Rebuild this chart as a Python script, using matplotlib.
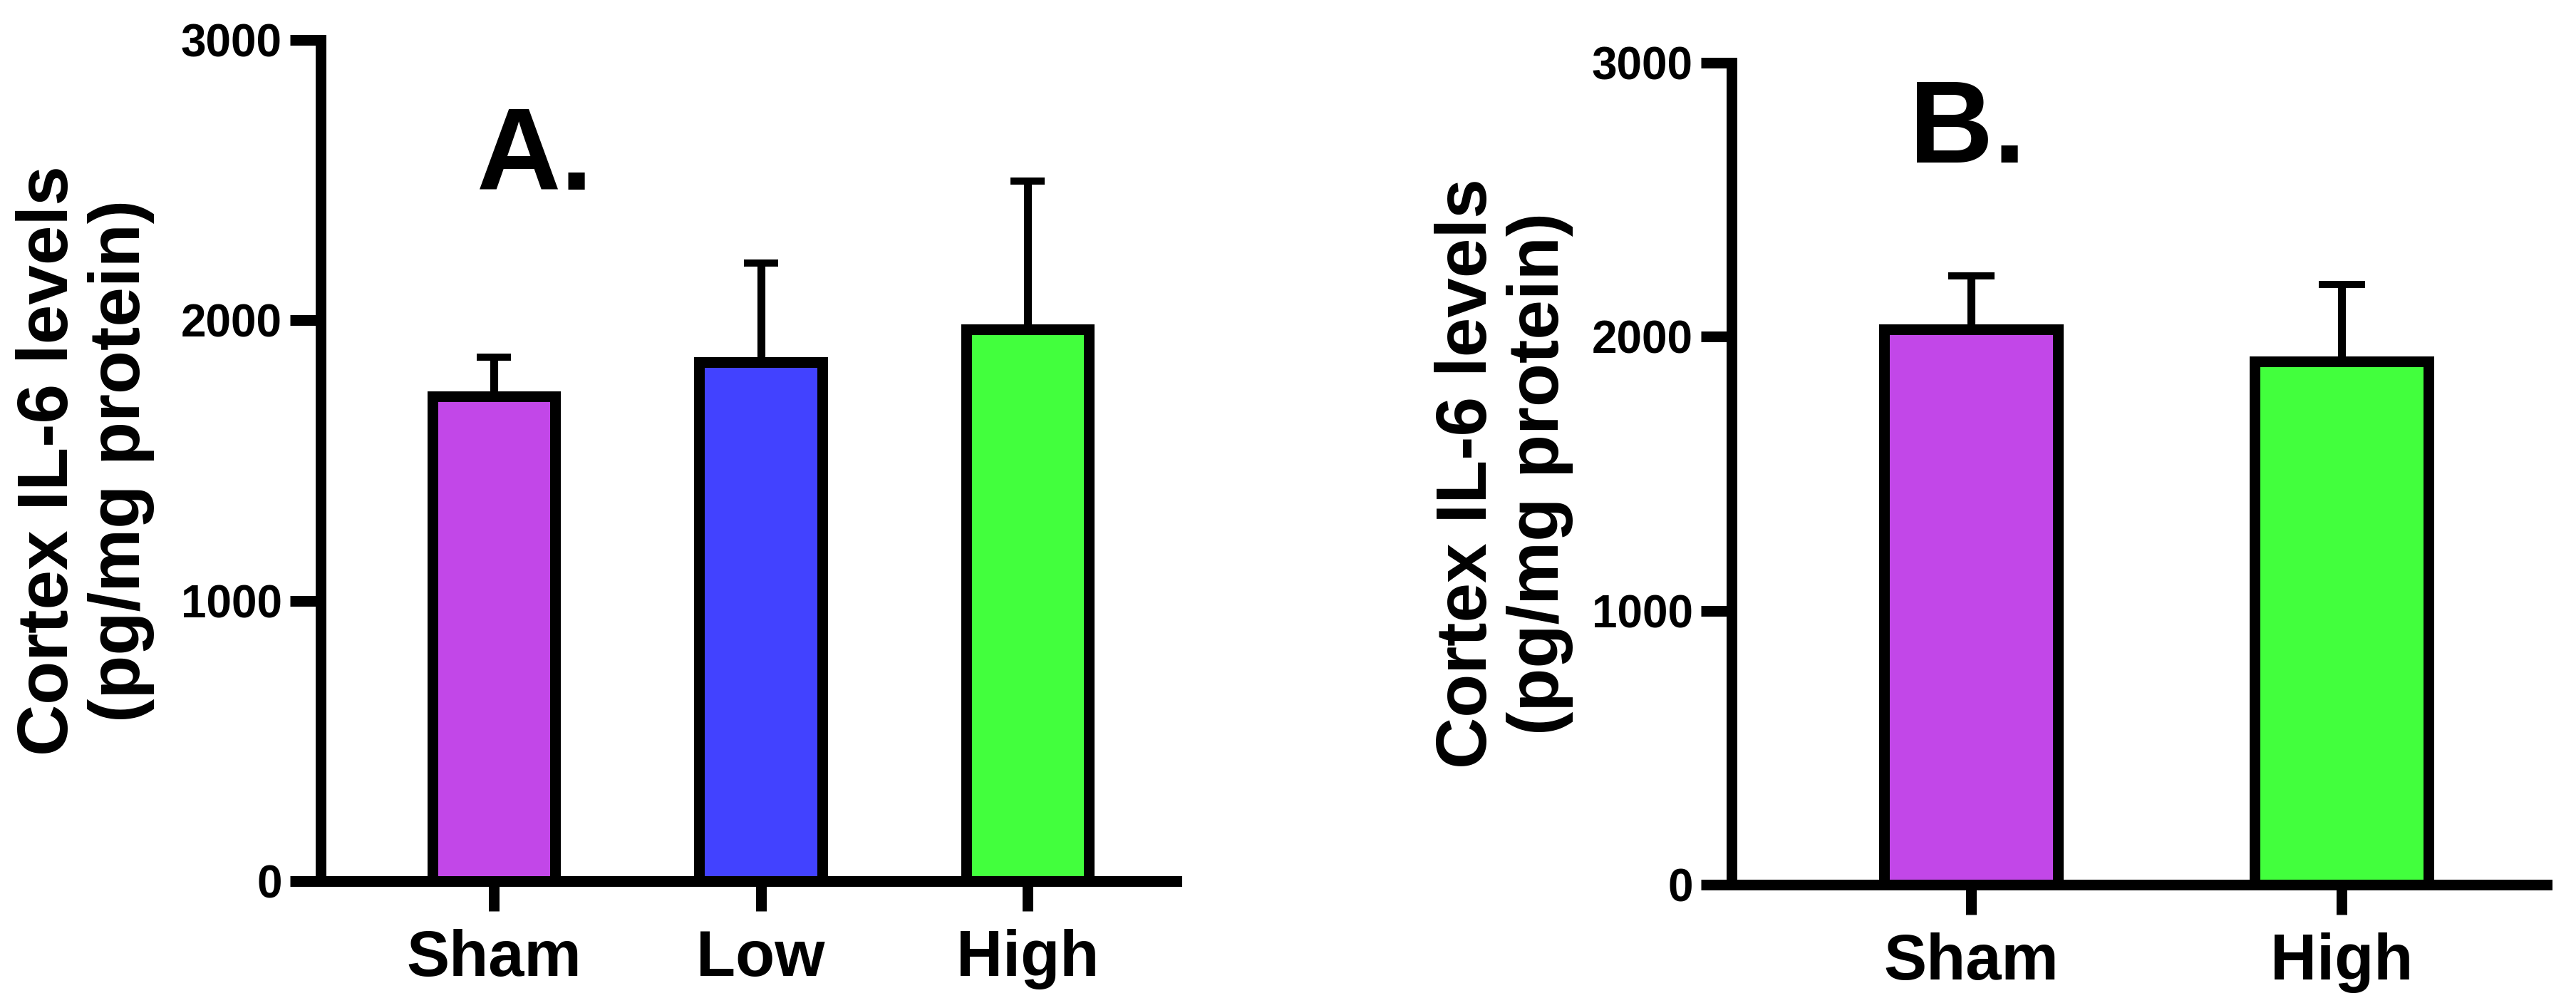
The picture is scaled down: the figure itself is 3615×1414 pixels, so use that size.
import numpy as np
import matplotlib
matplotlib.use('Agg')
import matplotlib.pyplot as plt

plt.rcParams['font.family'] = ['Liberation Sans', 'DejaVu Sans']
plt.rcParams['font.weight'] = 'bold'
plt.rcParams['axes.labelweight'] = 'bold'

# panel A
groups_a = ['Sham', 'Low', 'High']
mean_a = [1730, 1852, 1967]
sem_a = [139, 352, 529]
colors_a = ['#C247E8', '#4242FF', '#42FF3D']

# panel B
groups_b = ['Sham', 'High']
mean_b = [2028, 1911]
sem_b = [194, 281]
colors_b = ['#C247E8', '#42FF3D']

ylabel = 'Cortex IL-6 levels\n(pg/mg protein)'
yticks = [0, 1000, 2000, 3000]


def draw_panel(ax, groups, means, sems, colors, width, capsize, xlim, letter, lx, ly):
  x = np.arange(len(groups))
  ax.bar(x, means, width=width, color=colors, edgecolor='black',
         linewidth=10.8, joinstyle='miter', zorder=2)
  ax.errorbar(x, means, yerr=[np.zeros(len(sems)), sems], fmt='none',
              ecolor='black', elinewidth=8, capsize=capsize, capthick=7.2,
              zorder=1)
  for side in ['top', 'right']:
    ax.spines[side].set_visible(False)
  for side in ['left', 'bottom']:
    ax.spines[side].set_linewidth(10.8)
    ax.spines[side].set_capstyle('projecting')
  ax.set_xlim(*xlim)
  ax.set_ylim(0, 3000)
  ax.set_yticks(yticks)
  ax.set_xticks(x)
  ax.set_xticklabels(groups)
  ax.tick_params(axis='y', length=31, width=10.8, pad=8, labelsize=46)
  ax.tick_params(axis='x', length=30, width=10.8, pad=18, labelsize=65)
  ax.set_ylabel(ylabel, fontsize=72, linespacing=1.1)
  ax.yaxis.set_label_coords(-0.194, 0.5)
  ax.text(lx, ly, letter, fontsize=118, fontweight='bold',
          ha='center', va='baseline')


W, H = 3615, 1414
fig = plt.figure(figsize=(W / 100, H / 100), dpi=100)

ax_a = fig.add_axes([450 / W, 1 - 1236 / H, 1201 / W, 1180 / H])
draw_panel(ax_a, groups_a, mean_a, sem_a, colors_a, 0.46, 17,
           (-0.649, 2.558), 'A.', 0.155, 2466)

ax_b = fig.add_axes([2430 / W, 1 - 1241 / H, 1144 / W, 1153 / H])
draw_panel(ax_b, groups_b, mean_b, sem_b, colors_b, 0.47, 23.4,
           (-0.646, 1.554), 'B.', -0.01, 2637)

fig.savefig('out.png', dpi=100, facecolor='white')
